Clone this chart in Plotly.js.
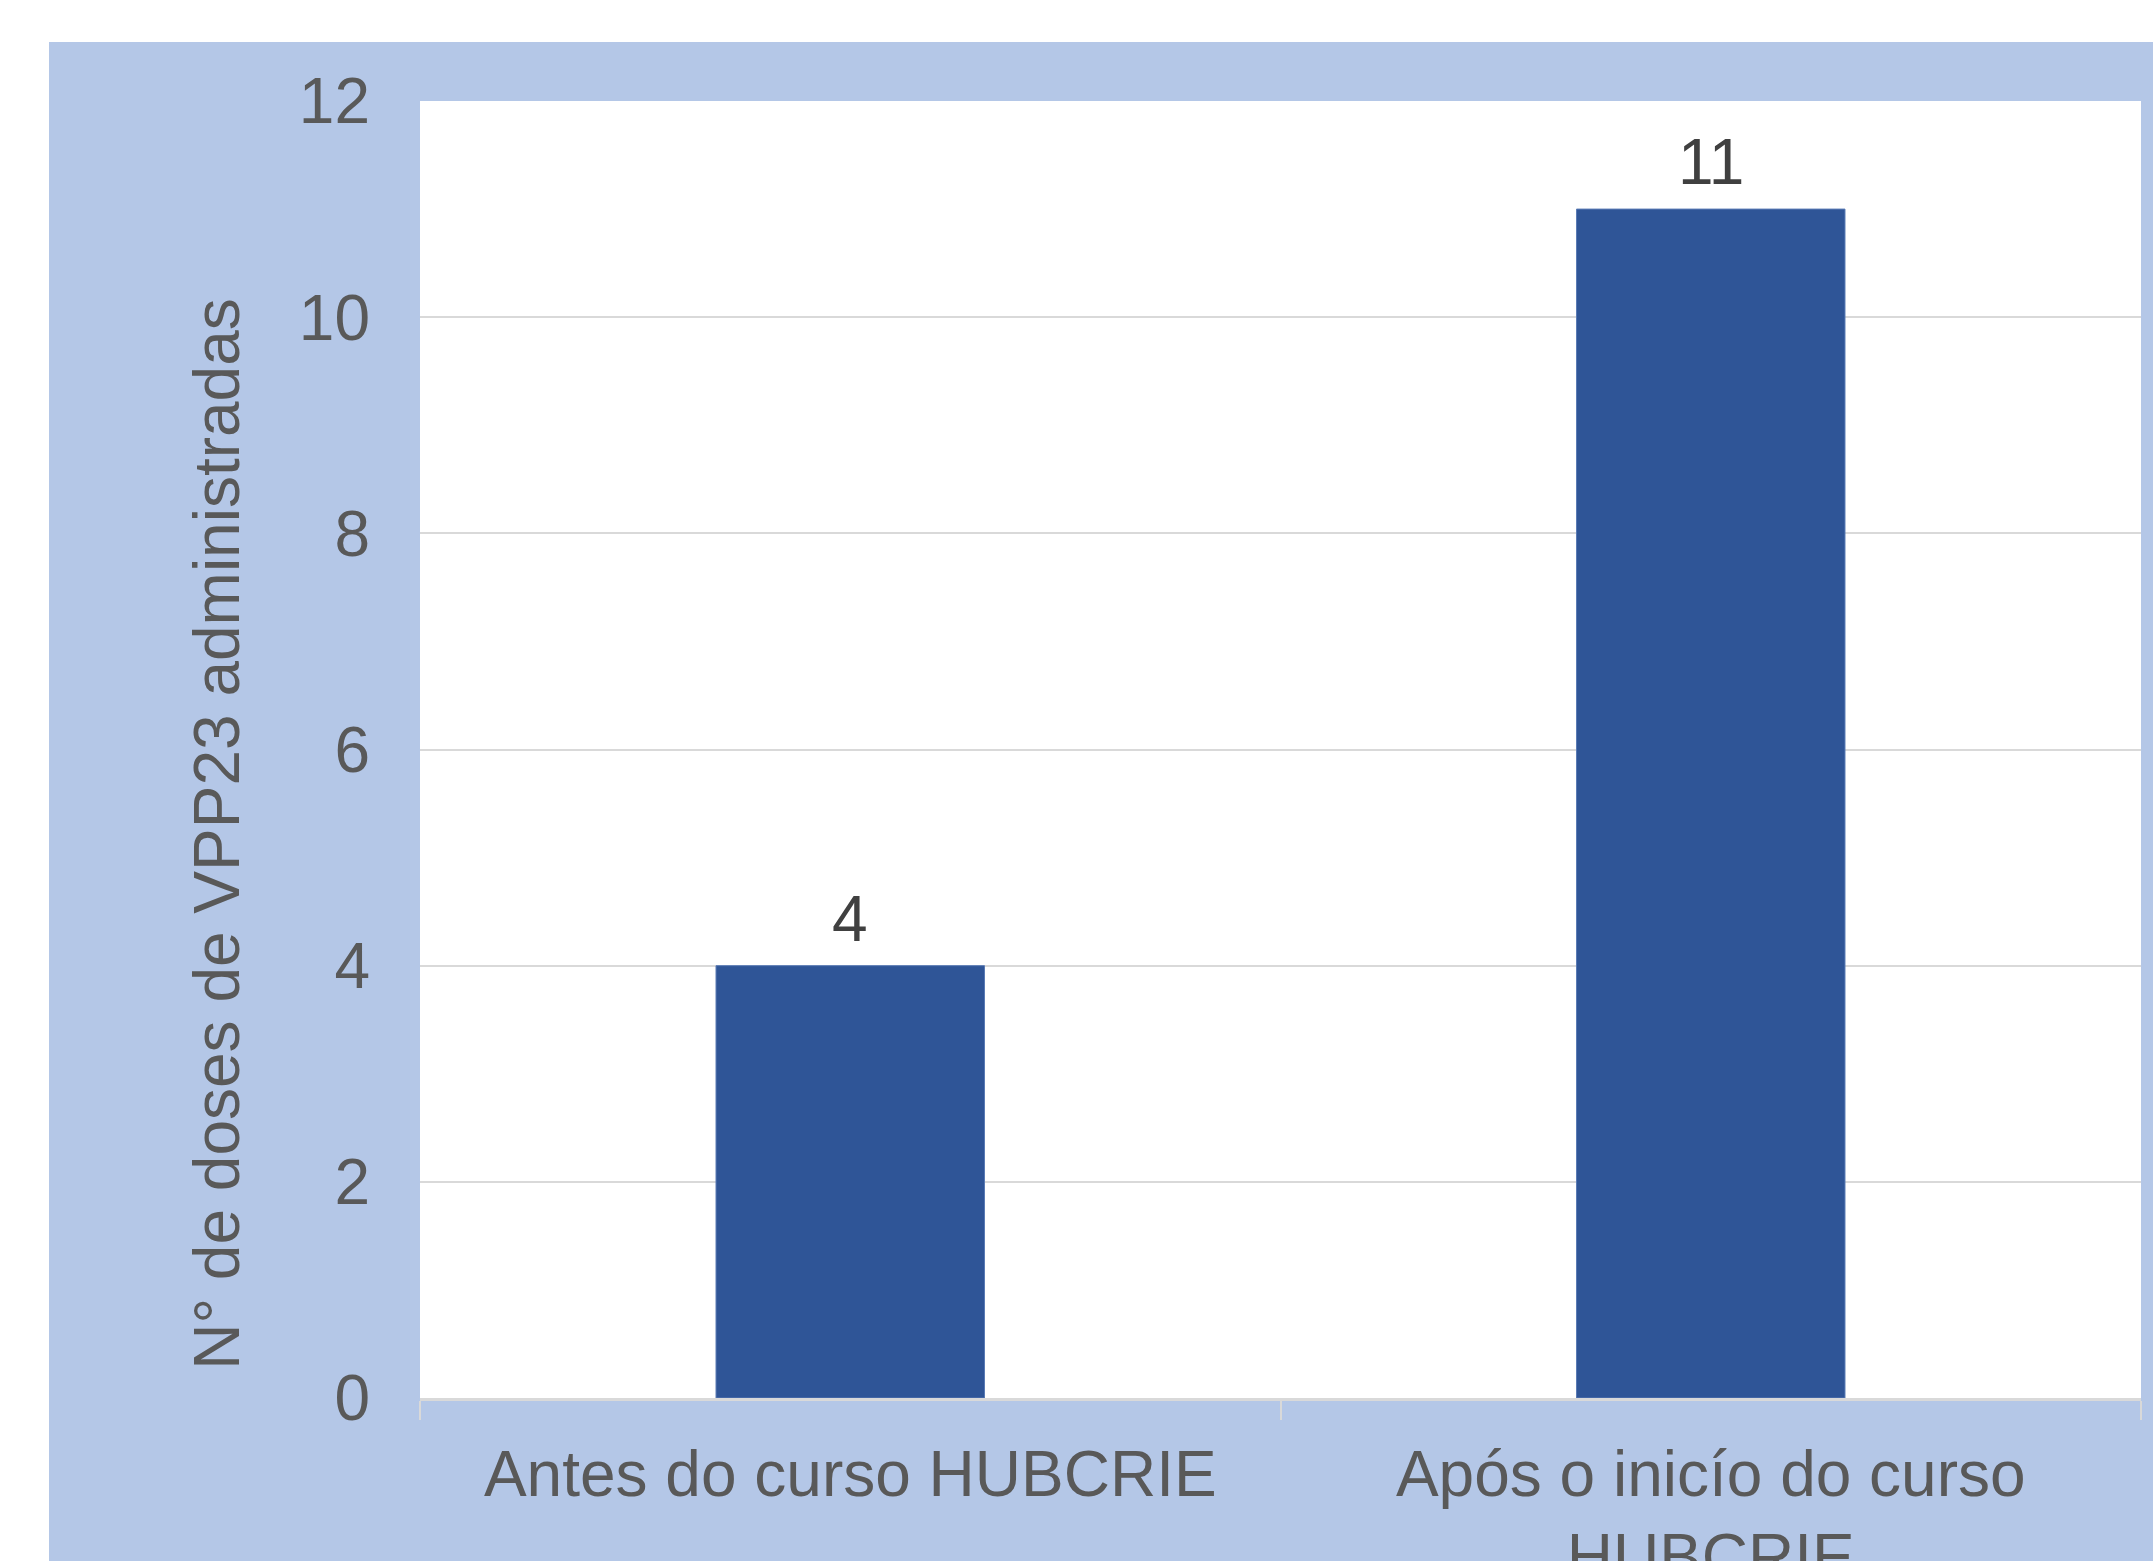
<!DOCTYPE html>
<html>
<head>
<meta charset="utf-8">
<script src="https://cdn.plot.ly/plotly-3.0.1.min.js"></script>
<style>
html, body { margin: 0; padding: 0; background: #ffffff; width: 2153px; height: 1561px; overflow: hidden; }
#chart { position: absolute; left: 49px; top: 42px; width: 2104px; height: 1519px; }
</style>
</head>
<body>
<div id="chart"></div>
<script>
const categories = ["Antes do curso HUBCRIE", "Após o inicío do curso<br>HUBCRIE"];
const doses = [4, 11];
const yTitle = "N° de doses de VPP23 administradas";
const yTickVals = [0, 2, 4, 6, 8, 10, 12];

const FONT = "Liberation Sans, Arial, sans-serif";

const trace = {
  type: "bar",
  x: categories,
  y: doses,
  marker: { color: "#2f5597", line: { color: "#5a7bb5", width: 1 } },
  hoverinfo: "skip"
};

const annotations = categories.map((c, i) => ({
  x: c, y: doses[i], xref: "x", yref: "y",
  text: String(doses[i]), showarrow: false,
  yanchor: "bottom", yshift: 9,
  font: { family: FONT, size: 64, color: "#404040" }
}));

annotations.push({
  text: yTitle,
  xref: "paper", yref: "paper",
  x: -0.118, y: 0.435,
  xanchor: "center", yanchor: "middle",
  textangle: -90,
  showarrow: false,
  font: { family: FONT, size: 64, color: "#595959" }
});

const layout = {
  width: 2104,
  height: 1519,
  paper_bgcolor: "#b4c7e7",
  plot_bgcolor: "#ffffff",
  margin: { l: 371, r: 12, t: 59, b: 163, pad: 0 },
  showlegend: false,
  bargap: 0.688,
  font: { family: FONT, color: "#595959", size: 64 },
  xaxis: {
    type: "category",
    tickson: "boundaries",
    ticks: "outside",
    ticklen: 19,
    tickwidth: 2,
    tickcolor: "#d9d9d9",
    showline: true,
    linecolor: "#d9d9d9",
    linewidth: 3,
    showgrid: false,
    ticklabelstandoff: 18,
    tickfont: { family: FONT, size: 64, color: "#595959" },
    automargin: false,
    fixedrange: true
  },
  yaxis: {
    range: [0, 12],
    tickvals: yTickVals,
    ticktext: yTickVals.map(String),
    showgrid: true,
    gridcolor: "#d9d9d9",
    gridwidth: 2,
    zeroline: false,
    showline: false,
    ticks: "",
    ticklabelstandoff: 49,
    tickfont: { family: FONT, size: 64, color: "#595959" },
    automargin: false,
    fixedrange: true
  },
  annotations: annotations
};

Plotly.newPlot("chart", [trace], layout, { displayModeBar: false, staticPlot: true });
</script>
</body>
</html>
